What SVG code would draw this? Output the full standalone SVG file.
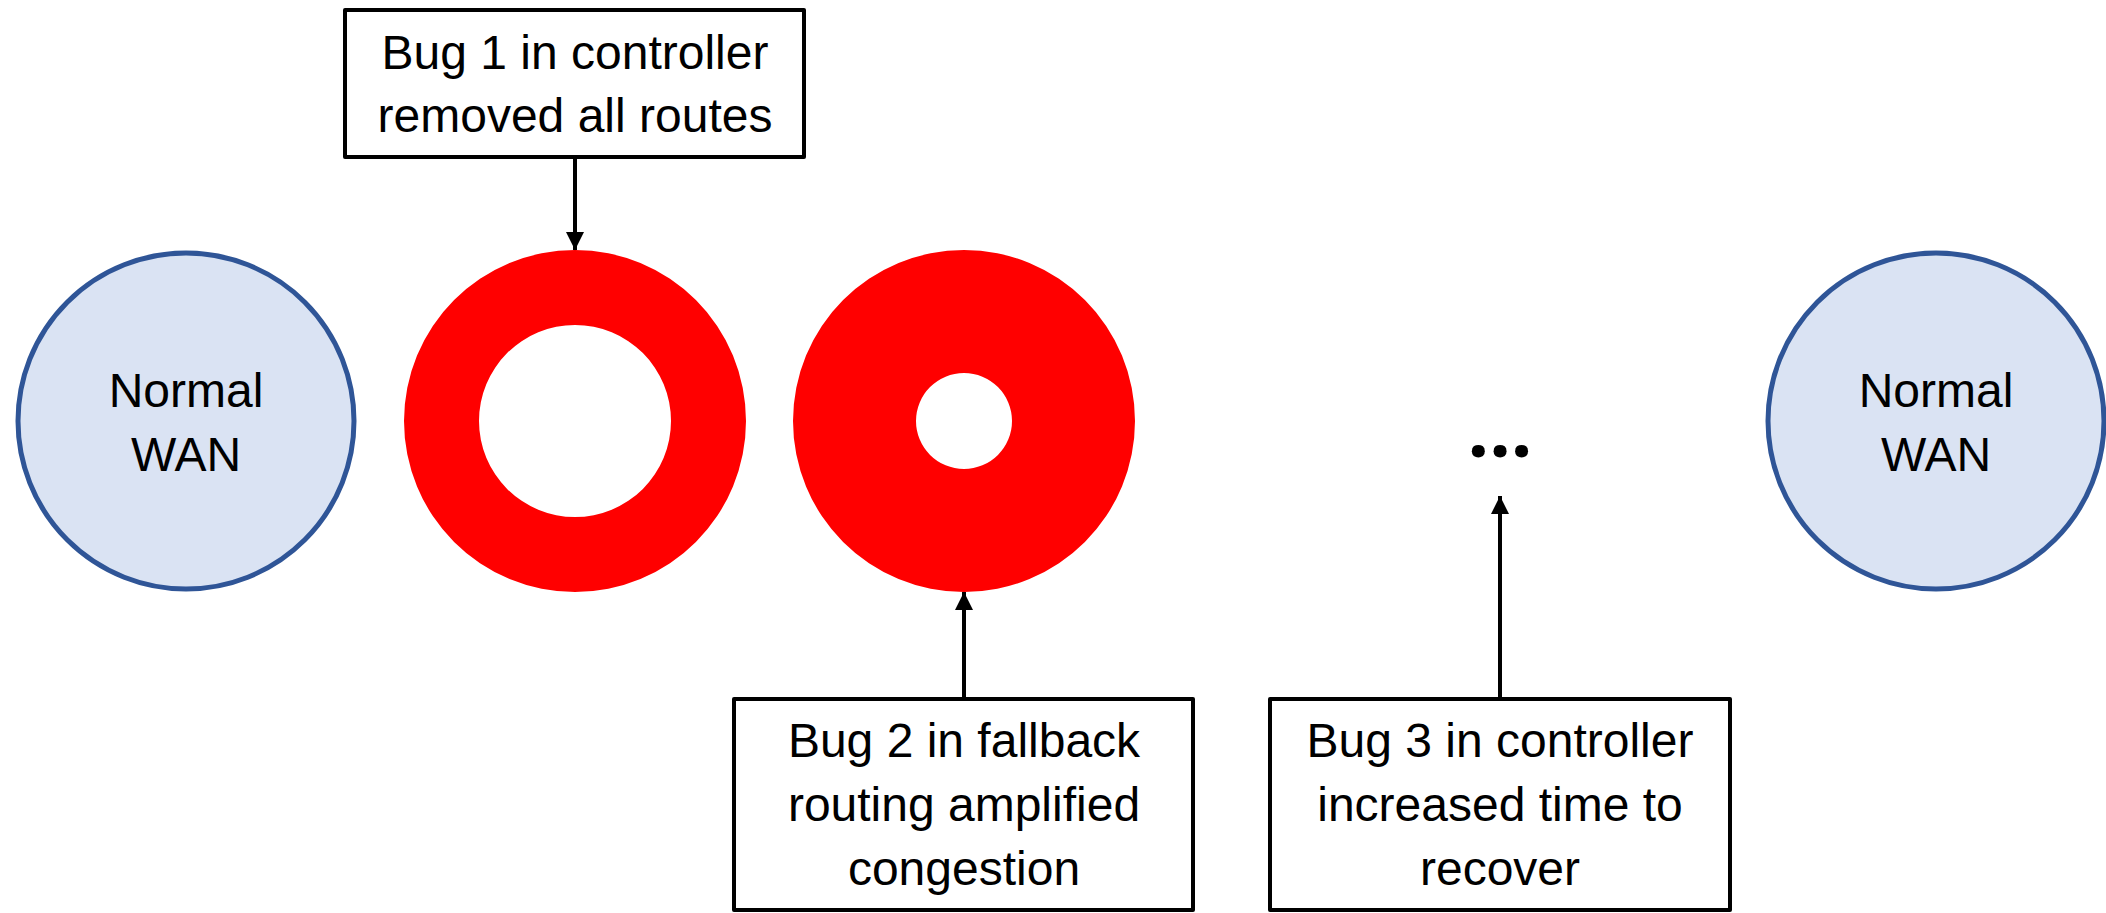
<svg xmlns="http://www.w3.org/2000/svg" width="2106" height="913" viewBox="0 0 2106 913">
  <style>
    .lbl { font-family: "Liberation Sans", Arial, sans-serif; font-size: 48px; fill: #000; text-anchor: middle; }
    .box { fill: #fff; stroke: #000; stroke-width: 4; stroke-linejoin: round; }
    .wan { fill: #DAE3F3; stroke: #2F5597; stroke-width: 5; }
    .ring { fill: #FF0000; fill-rule: evenodd; stroke: none; }
    .conn { stroke: #000; stroke-width: 4; fill: none; }
  </style>
  <defs>
    <marker id="arrow" viewBox="0 0 18 18" refX="18" refY="9" markerWidth="18" markerHeight="18" markerUnits="userSpaceOnUse" orient="auto">
      <path d="M0,0 L18,9 L0,18 Z" fill="#000"/>
    </marker>
  </defs>
  <rect width="2106" height="913" fill="#fff"/>

  <!-- state nodes -->
  <g id="wan-start">
    <circle class="wan" cx="186" cy="421" r="168"/>
    <text class="lbl" x="186" y="407">Normal</text>
    <text class="lbl" x="186" y="471">WAN</text>
  </g>
  <g id="outage-1">
    <path class="ring" d="M404,421 a171,171 0 1,0 342,0 a171,171 0 1,0 -342,0 Z M479,421 a96,96 0 1,0 192,0 a96,96 0 1,0 -192,0 Z"/>
  </g>
  <g id="outage-2">
    <path class="ring" d="M793,421 a171,171 0 1,0 342,0 a171,171 0 1,0 -342,0 Z M916,421 a48,48 0 1,0 96,0 a48,48 0 1,0 -96,0 Z"/>
  </g>
  <g id="ellipsis">
    <text x="1500" y="457" style="font-family: 'Open Sans', 'Liberation Sans', sans-serif; font-size: 76px; font-weight: bold; text-anchor: middle;">...</text>
  </g>
  <g id="wan-end">
    <circle class="wan" cx="1936" cy="421" r="168"/>
    <text class="lbl" x="1936" y="407">Normal</text>
    <text class="lbl" x="1936" y="471">WAN</text>
  </g>

  <!-- bug callouts -->
  <g id="bug-1">
    <rect class="box" x="345" y="10" width="459" height="147"/>
    <text class="lbl" x="575" y="69">Bug 1 in controller</text>
    <text class="lbl" x="575" y="132">removed all routes</text>
  </g>
  <g id="bug-2">
    <rect class="box" x="734" y="699" width="459" height="211"/>
    <text class="lbl" x="964" y="757">Bug 2 in fallback</text>
    <text class="lbl" x="964" y="821">routing amplified</text>
    <text class="lbl" x="964" y="885">congestion</text>
  </g>
  <g id="bug-3">
    <rect class="box" x="1270" y="699" width="460" height="211"/>
    <text class="lbl" x="1500" y="757">Bug 3 in controller</text>
    <text class="lbl" x="1500" y="821">increased time to</text>
    <text class="lbl" x="1500" y="885">recover</text>
  </g>

  <!-- connectors -->
  <g id="connectors">
    <line class="conn" x1="575" y1="157" x2="575" y2="250" marker-end="url(#arrow)"/>
    <line class="conn" x1="964" y1="699" x2="964" y2="592" marker-end="url(#arrow)"/>
    <line class="conn" x1="1500" y1="699" x2="1500" y2="496" marker-end="url(#arrow)"/>
  </g>
</svg>
